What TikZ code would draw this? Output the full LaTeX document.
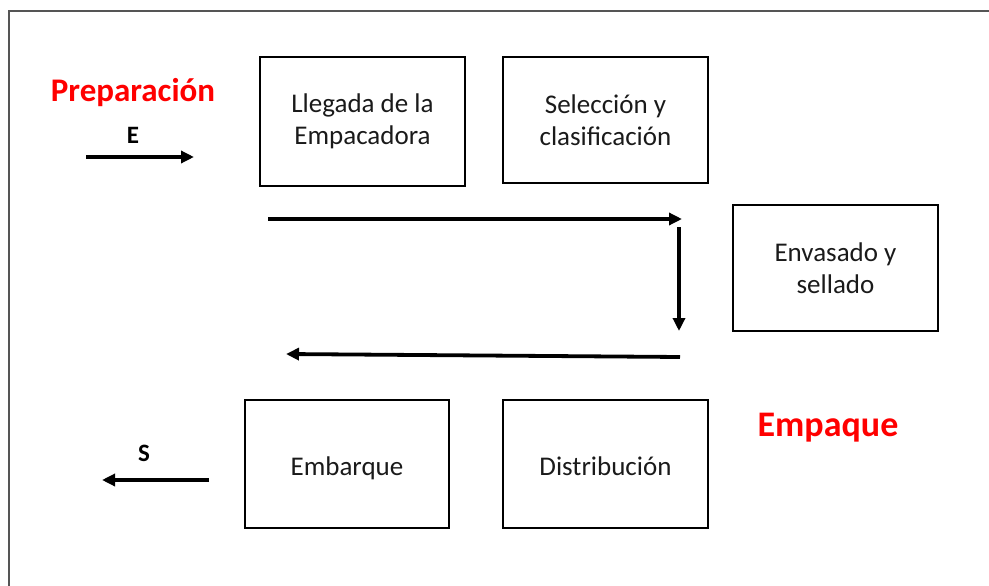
\documentclass[tikz,border=0pt]{standalone}
\usepackage{fontspec}
\setmainfont{Carlito}
\usetikzlibrary{arrows.meta}
\definecolor{txt}{HTML}{1A1A1A}
\definecolor{frame}{HTML}{555555}
\tikzset{
  stage/.style={draw=black, line width=2.8pt, minimum width=#1, inner sep=0pt,
    align=center, font=\fontsize{27}{32}\selectfont, text=txt},
  stage/.default=205pt,
  flow/.style={line width=3.8pt, -{Triangle[length=13pt,width=12pt]}},
  phase/.style={text=red, font=\bfseries\fontsize{#1}{38}\selectfont},
  io/.style={font=\bfseries\fontsize{25}{28}\selectfont, text=black},
}
\begin{document}
\begin{tikzpicture}[x=1pt,y=-1pt]
\useasboundingbox (0,0) rectangle (989,586);
\draw[frame, line width=1.8pt] (9,600) -- (9,11) -- (995,11);
% stages
\node[stage=205pt, minimum height=129pt] (lleg) at (362.5,121.5) {Llegada de la\\Empacadora};
\node[stage=205pt, minimum height=126pt] (sel) at (605.5,120) {Selección y\\clasificación};
\node[stage=205pt, minimum height=126pt] (env) at (835.5,268) {Envasado y\\sellado};
\node[stage=204pt, minimum height=128pt, text depth=0pt, text height=23pt] (emb) at (347,464) {Embarque};
\node[stage=205pt, minimum height=128pt, text depth=0pt, text height=23pt] (dis) at (605.5,464) {Distribución};
% phase labels
\node[phase=33] (prep) at (133,93) {Preparación};
\node[phase=36] (emp) at (828,428) {Empaque};
% entry / exit
\coordinate (e1) at (86,157);
\coordinate (e2) at (194,157);
\draw[flow] (e1) -- (e2);
\node[io] (E) at (133,135) {E};
\coordinate (s1) at (209,480);
\coordinate (s2) at (102,480);
\draw[flow] (s1) -- (s2);
\node[io] (S) at (144,453) {S};
% process flow
\coordinate (a1) at (268,219);
\coordinate (a2) at (682,219);
\draw[flow] (a1) -- (a2);
\coordinate (b1) at (679,227);
\coordinate (b2) at (679,331);
\draw[flow] (b1) -- (b2);
\coordinate (c1) at (680,357);
\coordinate (c2) at (286,354);
\draw[flow] (c1) -- (c2);
\end{tikzpicture}
\end{document}
